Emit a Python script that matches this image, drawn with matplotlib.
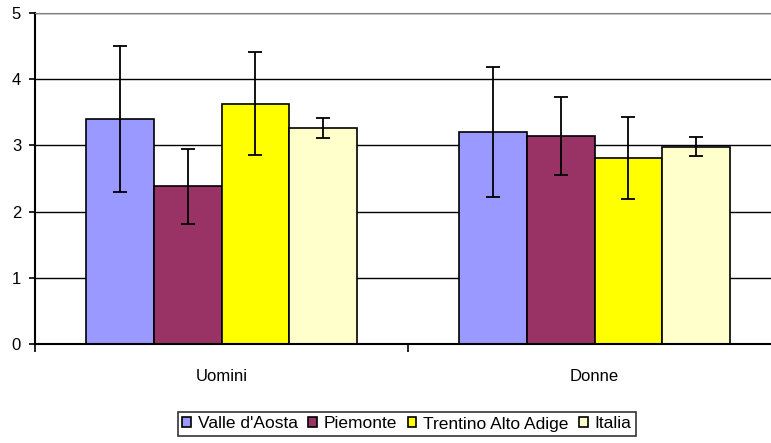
import numpy as np
import matplotlib
matplotlib.use('Agg')
import matplotlib.pyplot as plt
from matplotlib.ticker import FixedLocator, NullFormatter

plt.rcParams['font.family'] = ['Liberation Sans', 'DejaVu Sans']

categories = ['Uomini', 'Donne']
series = ["Valle d'Aosta", 'Piemonte', 'Trentino Alto Adige', 'Italia']
values = [
    [3.40, 3.20],
    [2.38, 3.14],
    [3.63, 2.81],
    [3.26, 2.98],
]
errors = [
    [1.10, 0.98],
    [0.56, 0.59],
    [0.78, 0.62],
    [0.15, 0.14],
]
colors = ['#9999FF', '#993366', '#FFFF00', '#FFFFCC']

fig = plt.figure(figsize=(7.71, 4.43), dpi=100)
# plot area runs a little past the right edge of the picture, as in the original
ax = fig.add_axes([35/771, 1-344/443, 746/771, (344-13)/443])

x = np.arange(len(categories))
w = 0.182
for i, name in enumerate(series):
    pos = x + (i - 1.5) * w
    ax.bar(pos, values[i], width=w, color=colors[i], edgecolor='black',
           linewidth=1.2, label=name, zorder=2)
    ax.errorbar(pos, values[i], yerr=errors[i], fmt='none', ecolor='black',
                elinewidth=1.3, capsize=5, capthick=1.3, zorder=3)

ax.set_xlim(-0.5, 1.5)
ax.set_ylim(0, 5)
ax.set_yticks([0, 1, 2, 3, 4, 5])
ax.yaxis.grid(True, color='black', linewidth=1)
ax.set_axisbelow(True)

ax.xaxis.set_major_locator(FixedLocator([-0.5, 0.5, 1.5]))
ax.xaxis.set_major_formatter(NullFormatter())
ax.xaxis.set_minor_locator(FixedLocator(x))
ax.set_xticklabels(categories, minor=True)
ax.tick_params(axis='x', which='minor', length=0, pad=18, labelsize=12)
ax.tick_params(axis='x', which='major', length=5.5, width=1.2, direction='out')
ax.tick_params(axis='y', length=4, width=1.2, direction='out', labelsize=12, pad=6)

ax.spines['right'].set_visible(False)
ax.spines['top'].set_color('#808080')
ax.spines['left'].set_linewidth(1.5)
ax.spines['bottom'].set_linewidth(1.5)

leg = fig.legend(loc='center', bbox_to_anchor=(407/771, 1-424/443), ncol=4,
                 frameon=True, fancybox=False, edgecolor='black',
                 handlelength=0.5, handleheight=0.5, handletextpad=0.4,
                 columnspacing=0.6, borderpad=0.25, fontsize=12.5)
leg.get_frame().set_linewidth(1.2)

fig.savefig('out.png', dpi=100)
